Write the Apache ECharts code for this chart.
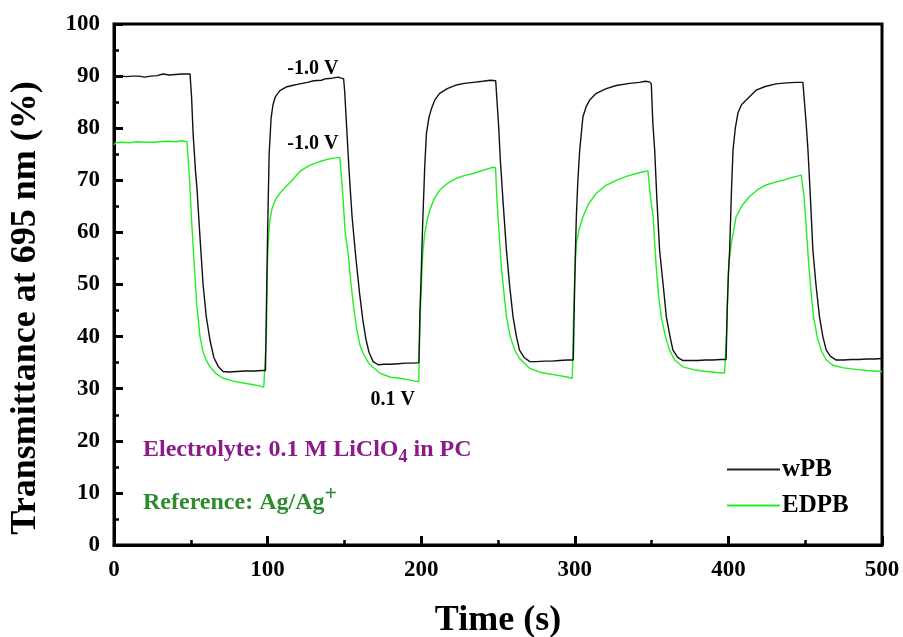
<!DOCTYPE html>
<html>
<head>
<meta charset="utf-8">
<script src="https://cdn.jsdelivr.net/npm/echarts@6/dist/echarts.min.js"></script>
<style>
  html, body { margin: 0; padding: 0; background: #fff; }
  #chart { width: 903px; height: 637px; }
</style>
</head>
<body>
<div id="chart"></div>
<script>
// Transmittance switching at 695 nm, stepped between -1.0 V and 0.1 V every 50 s.
const seriesNames = ['wPB', 'EDPB'];

const timeWPB = [
  0, 5, 8, 12, 16, 20, 24, 28, 32, 36, 40, 44, 48, 49.5,
  50.5, 51.5, 53, 54, 56, 58, 60, 62.5, 65, 68, 71, 75, 80, 85, 88, 92, 96, 98.6,
  99.2, 100, 101, 102.3, 103.5, 105, 108, 112, 116, 121, 126, 130, 135, 138, 142, 146, 148, 149.5,
  150.2, 151.5, 153, 155, 157.5, 160, 162, 164, 166, 168.7, 172, 176, 180, 185, 190, 195, 198.5,
  199.2, 200, 201, 202.3, 203.4, 205, 206.7, 209, 212, 217, 223, 228, 234, 240, 245, 248.5, 249.4,
  250.5, 251.5, 253.5, 255.5, 257.5, 259.8, 262, 264, 267, 270.7, 275, 280, 285, 290, 295, 299,
  299.6, 300.3, 301, 302, 303.2, 305.3, 307.5, 309.7, 314, 320.5, 327, 335.7, 342, 346, 348.7, 349.8,
  350.8, 352, 353.5, 355.2, 357.5, 359.6, 362, 363.9, 367, 370.4, 375, 380, 385, 390, 395, 398.5,
  399.2, 400, 400.8, 402, 403, 404.5, 406.2, 408.5, 411.6, 418, 424, 431, 438, 444, 448.5, 449.6,
  450.6, 451.8, 453.5, 455, 457, 459.3, 461.5, 463.7, 466.5, 470.2, 475, 480, 485, 490, 495, 500
];
const valuesWPB = [
  90.0, 90.0, 89.9, 90.0, 90.0, 89.8, 90.0, 90.1, 90.4, 90.2, 90.3, 90.4, 90.4, 90.4,
  86, 79, 72, 68.5, 59, 50, 44, 39.3, 36, 34.2, 33.3, 33.2, 33.3, 33.4, 33.4, 33.4, 33.5, 33.5,
  45, 60, 75, 82, 84.5, 86, 87.2, 87.9, 88.2, 88.5, 88.8, 89.1, 89.2, 89.5, 89.6, 89.8, 89.6, 89.5,
  87, 80, 72, 63, 55, 48, 43.2, 39.5, 37, 35.2, 34.6, 34.7, 34.7, 34.8, 34.9, 34.9, 35.0,
  45, 52, 62, 72.6, 79, 82, 83.8, 85.5, 86.7, 87.6, 88.3, 88.6, 88.8, 89.0, 89.2, 89.1, 88.8,
  80, 74, 65, 56.6, 50, 43.8, 40, 37.4, 36, 35.2, 35.2, 35.3, 35.3, 35.4, 35.5, 35.5,
  45, 55, 63, 70, 75.8, 82.2, 84.2, 85.4, 86.7, 87.6, 88.2, 88.6, 88.8, 89.0, 88.9, 88.5,
  81, 75.8, 66, 56.6, 50, 43.8, 40, 37.4, 36, 35.4, 35.4, 35.4, 35.5, 35.5, 35.6, 35.6,
  45, 52, 56.6, 68, 75.8, 80, 82.9, 84.5, 85.4, 87.3, 88.0, 88.5, 88.7, 88.8, 88.8, 88.5,
  81, 75.8, 66, 56.6, 50, 43.8, 40, 37.4, 36.2, 35.5, 35.5, 35.6, 35.6, 35.7, 35.7, 35.8
];

const timeEDPB = [
  0, 1, 5, 10, 15, 20, 25, 30, 35, 40, 44, 47.5, 48.4,
  49.2, 50.5, 52, 53.8, 56, 58, 60, 62.5, 66, 71, 77, 84, 90, 94, 97.5, 98.6,
  99.2, 100, 100.8, 101.5, 103, 105, 108, 112, 116, 121, 127, 134, 140, 144, 147, 147.8,
  148.8, 150.5, 152.4, 154, 155.7, 158, 160, 162.2, 166, 173, 180, 186, 192, 197, 198.4,
  199, 199.6, 200.2, 201, 202.3, 204, 205.6, 208.5, 212, 217, 223, 228, 234, 240, 246.8, 248.4,
  249.2, 250, 252.2, 254, 255.5, 258, 260.9, 264, 270.7, 278, 288, 294, 298.4,
  299, 300, 301, 303, 305.3, 309, 314, 320, 327, 334, 340, 344, 347.6, 348.3,
  349.2, 351, 353, 354.5, 356.3, 359, 361.7, 365, 370.4, 378, 385.6, 392, 397.5, 398.5,
  399, 399.7, 400.3, 401.9, 405, 409, 413.8, 419, 424.6, 430, 435.4, 441, 447.4, 448.4,
  449.2, 450.2, 452.4, 454, 455.4, 457.8, 460.4, 463.5, 468, 475, 483.2, 490, 495, 500
];
const valuesEDPB = [
  76.8, 77.2, 77.3, 77.2, 77.4, 77.3, 77.3, 77.4, 77.5, 77.4, 77.6, 77.4, 77.2,
  70, 62.4, 55, 46.4, 40, 37, 35.5, 34.2, 33, 32, 31.5, 31.1, 30.8, 30.6, 30.3, 30.2,
  40, 55, 60, 62.4, 64.7, 66.2, 67.5, 68.8, 70, 71.7, 72.8, 73.6, 74.1, 74.3, 74.4, 74.3,
  68, 60, 56, 51, 46.4, 41.5, 38.5, 36.8, 34.8, 33, 32.2, 32, 31.7, 31.4, 31.4,
  40, 46, 50.2, 56, 59.8, 62.5, 64.3, 66.5, 68.1, 69.4, 70.4, 70.9, 71.3, 71.9, 72.5, 72.4,
  67, 63, 53.4, 48, 43.8, 40, 37.4, 35.8, 33.9, 33.1, 32.6, 32.3, 32.0,
  42, 52, 57.9, 60.8, 63, 65.5, 67.5, 69, 70, 70.8, 71.3, 71.6, 71.8, 71.6,
  67, 63, 53.4, 48, 43.8, 40, 37.4, 35.5, 34.2, 33.6, 33.3, 33.1, 33.0, 33.0,
  42, 50, 54, 57.9, 63, 65.2, 66.9, 68.2, 69.1, 69.6, 70, 70.5, 71, 70.9,
  67, 63, 53.4, 48, 43.8, 40, 37.4, 35.6, 34.5, 34, 33.7, 33.5, 33.4, 33.3
];

// Potential labels: [time, transmittance, text]
const potentialLabels = [
  [129.5, 91.4, '-1.0 V'],
  [129.5, 77.0, '-1.0 V'],
  [181.5, 27.8, '0.1 V']
];

const xTicks = { min: 0, max: 500, interval: 100 };
const yTicks = { min: 0, max: 100, interval: 10 };

const serif = '"Liberation Serif", "Times New Roman", serif';

function pairs(ts, vs) { return ts.map((t, i) => [t, vs[i]]); }

const chart = echarts.init(document.getElementById('chart'), null, { renderer: 'canvas' });

const axisCommon = {
  type: 'value',
  axisLine: { show: true, onZero: false, lineStyle: { color: '#000', width: 3 } },
  axisTick: { show: true, inside: true, length: 9, lineStyle: { color: '#000', width: 3 } },
  minorTick: { show: true, splitNumber: 2, length: 5, lineStyle: { color: '#000', width: 2.5 } },
  splitLine: { show: false },
  axisLabel: { color: '#000', fontFamily: serif, fontWeight: 'bold', fontSize: 23, margin: 14 }
};

chart.setOption({
  animation: false,
  backgroundColor: '#fff',
  grid: {
    left: 114, right: 21, top: 24, bottom: 92,
    containLabel: false, outerBoundsMode: 'none',
    show: true, borderColor: '#000', borderWidth: 3, backgroundColor: 'transparent'
  },
  xAxis: Object.assign({}, axisCommon, {
    min: xTicks.min, max: xTicks.max, interval: xTicks.interval,
    name: 'Time (s)', nameLocation: 'middle', nameGap: 58,
    nameTextStyle: { color: '#000', fontFamily: serif, fontWeight: 'bold', fontSize: 36 }
  }),
  yAxis: Object.assign({}, axisCommon, {
    min: yTicks.min, max: yTicks.max, interval: yTicks.interval
  }),
  legend: {
    orient: 'vertical', left: 722, top: 452,
    itemWidth: 53, itemHeight: 2, itemGap: 11, icon: 'rect',
    textStyle: { color: '#000', fontFamily: serif, fontWeight: 'bold', fontSize: 25, padding: [0, 0, 0, -3] },
    data: seriesNames
  },
  graphic: [
    {
      type: 'text', x: 26, y: 308, rotation: Math.PI / 2,
      style: { text: 'Transmittance at 695 nm (%)', font: 'bold 36px ' + serif, fill: '#000', align: 'center', verticalAlign: 'middle' }
    },
    {
      type: 'text', x: 143, y: 450,
      style: {
        text: '{a|Electrolyte: 0.1 M LiClO}{s|4}{a| in PC}',
        verticalAlign: 'middle',
        rich: {
          a: { font: 'bold 24px ' + serif, fill: '#8b1a8b' },
          s: { font: 'bold 18px ' + serif, fill: '#8b1a8b', padding: [15, 0, 0, 0] }
        }
      }
    },
    {
      type: 'text', x: 143, y: 503,
      style: {
        text: '{a|Reference: Ag/Ag}{p|+}',
        verticalAlign: 'middle',
        rich: {
          a: { font: 'bold 24px ' + serif, fill: '#2e8b2e' },
          p: { font: 'bold 22px ' + serif, fill: '#2e8b2e', padding: [0, 0, 17, 0] }
        }
      }
    }
  ],
  series: [
    {
      name: seriesNames[0], type: 'line', data: pairs(timeWPB, valuesWPB),
      showSymbol: false, symbol: 'none', color: '#222',
      lineStyle: { color: '#111', width: 1.4 },
      markPoint: {
        symbol: 'circle', symbolSize: 0, silent: true,
        label: { show: true, position: 'inside', color: '#000', fontFamily: serif, fontWeight: 'bold', fontSize: 20,
                 formatter: p => p.data.name },
        data: potentialLabels.map(l => ({ coord: [l[0], l[1]], name: l[2] }))
      },
      z: 3
    },
    {
      name: seriesNames[1], type: 'line', data: pairs(timeEDPB, valuesEDPB),
      showSymbol: false, symbol: 'none', color: '#22ee22',
      lineStyle: { color: '#22ee22', width: 1.4 },
      z: 2
    }
  ]
});
</script>
</body>
</html>
